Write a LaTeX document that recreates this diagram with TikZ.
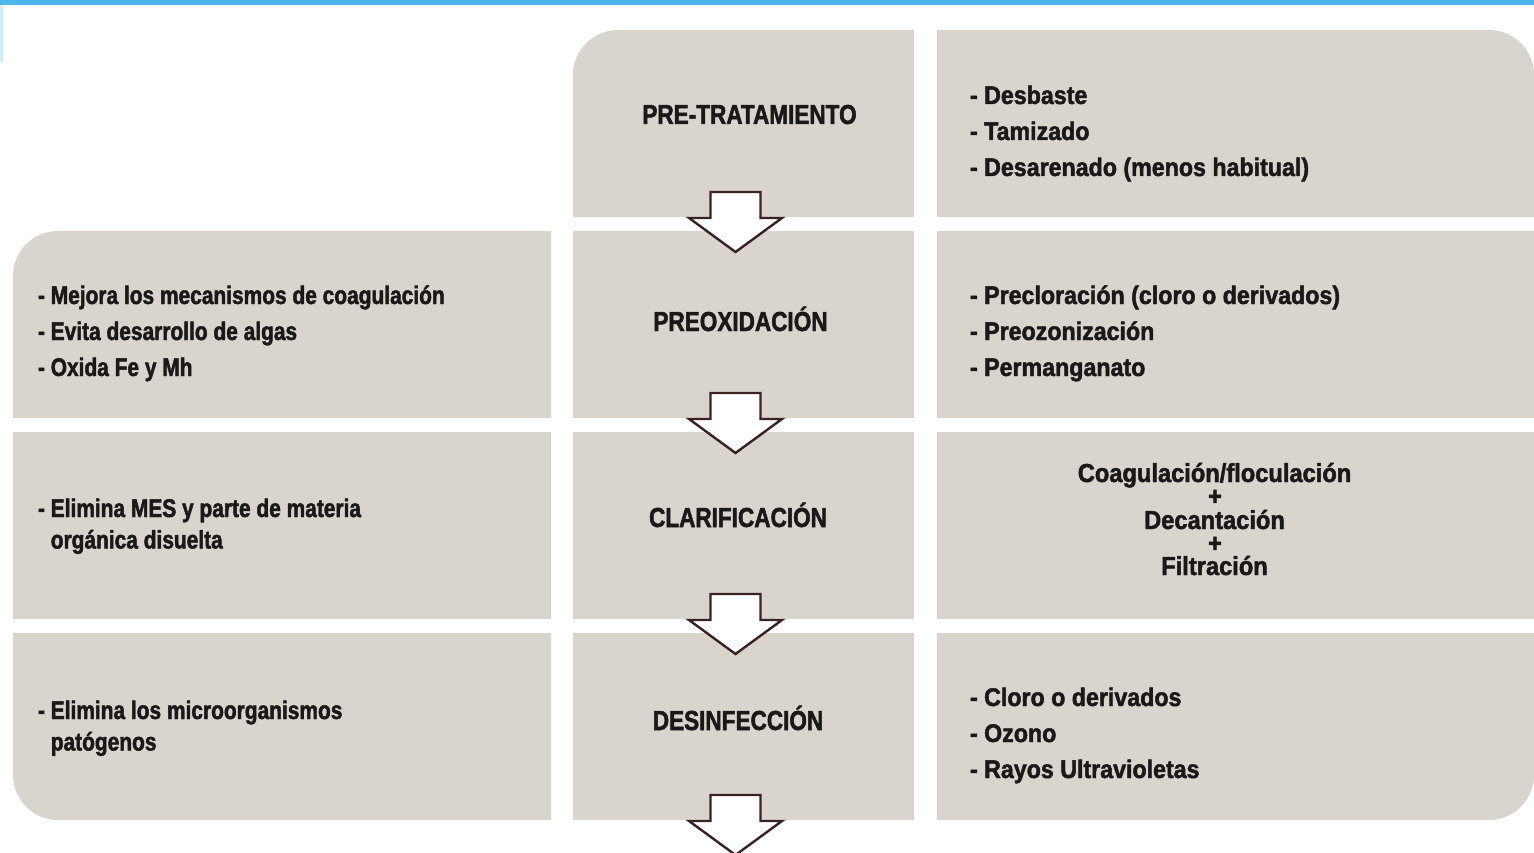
\documentclass[tikz,border=0pt]{standalone}
\usepackage{fontspec}
\setmainfont{Liberation Sans}
\newfontfamily\condA{Liberation Sans}[FakeStretch=0.82, BoldFeatures={FakeBold=1.8}]
\newfontfamily\condB{Liberation Sans}[FakeStretch=0.91, BoldFeatures={FakeBold=1.8}]
\newfontfamily\condH{Liberation Sans}[FakeStretch=0.82, BoldFeatures={FakeBold=1.8}]
\definecolor{boxc}{HTML}{D9D4CE}
\definecolor{txtc}{HTML}{1C1818}
\definecolor{arrc}{HTML}{3B2222}
\definecolor{barc}{HTML}{4DB6EC}
\begin{document}
\begin{tikzpicture}[x=1pt,y=-1pt,
  boxfill/.style={fill=boxc},
  txt/.style={inner sep=0pt, outer sep=0pt, text=txtc},
  head/.style={txt, anchor=base, font=\condH\bfseries\fontsize{27.5}{32}\selectfont},
  lstA/.style={txt, anchor=base west, align=left, font=\condA\bfseries\fontsize{25.5}{36}\selectfont},
  lstAt/.style={lstA, font=\condA\bfseries\fontsize{25.5}{31.5}\selectfont},
  lstB/.style={txt, anchor=base west, align=left, font=\condB\bfseries\fontsize{25.5}{36}\selectfont},
  ctrB/.style={txt, anchor=base, font=\condB\bfseries\fontsize{26}{32}\selectfont},
  arrowline/.style={draw=arrc, fill=white, line width=2.4pt, line join=miter},
  darrow/.pic={\path[arrowline] (-25,-60) -- (25,-60) -- (25,-34) -- (46.5,-34) -- (0,0) -- (-46.5,-34) -- (-25,-34) -- cycle;}
]
\useasboundingbox (0,0) rectangle (1534,853);
\fill[white] (0,0) rectangle (1534,853);
% top bar
\fill[barc] (0,0) rectangle (1534,5.5);
\fill[barc!25] (0,5.5) rectangle (3,62);

% ---- row 1
\fill[boxfill] (573,217) -- (573,75) arc[start angle=180,end angle=270,radius=45] -- (914,30) -- (914,217) -- cycle;
\fill[boxfill] (937,217) -- (937,30) -- (1489,30) arc[start angle=270,end angle=360,radius=45] -- (1534,217) -- cycle;
% ---- row 2
\fill[boxfill] (13,418) -- (13,276) arc[start angle=180,end angle=270,radius=45] -- (551,231) -- (551,418) -- cycle;
\fill[boxfill] (573,231) rectangle (914,418);
\fill[boxfill] (937,231) rectangle (1534,418);
% ---- row 3
\fill[boxfill] (13,432) rectangle (551,619);
\fill[boxfill] (573,432) rectangle (914,619);
\fill[boxfill] (937,432) rectangle (1534,619);
% ---- row 4
\fill[boxfill] (13,633) -- (551,633) -- (551,820) -- (58,820) arc[start angle=90,end angle=180,radius=45] -- cycle;
\fill[boxfill] (573,633) rectangle (914,820);
\fill[boxfill] (937,633) -- (1534,633) -- (1534,775) arc[start angle=0,end angle=90,radius=45] -- (937,820) -- cycle;

% ---- headings
\node[head] (h1) at (749.5,124) {PRE-TRATAMIENTO};
\node[head] (h2) at (740.5,331) {PREOXIDACIÓN};
\node[head] (h3) at (738,527) {CLARIFICACIÓN};
\node[head] (h4) at (738,730) {DESINFECCIÓN};

% ---- right column (base anchor = baseline of last line)
\node[lstB] (r1) at (970,176) {- Desbaste\\- Tamizado\\- Desarenado (menos habitual)};
\node[lstB] (r2) at (970,376) {- Precloración (cloro o derivados)\\- Preozonización\\- Permanganato};
\node[ctrB] (r3a) at (1214.5,482) {Coagulación/floculación};
\node[ctrB] (r3p1) at (1215,505) {+};
\node[ctrB] (r3b) at (1214.5,529) {Decantación};
\node[ctrB] (r3p2) at (1215,552) {+};
\node[ctrB] (r3c) at (1214.5,575) {Filtración};
\node[lstB] (r4) at (970,778) {- Cloro o derivados\\- Ozono\\- Rayos Ultravioletas};

% ---- left column
\node[lstA] (l2) at (38,376) {- Mejora los mecanismos de coagulación\\- Evita desarrollo de algas\\- Oxida Fe y Mh};
\node[lstAt] (l3) at (38,548.5) {- Elimina MES y parte de materia\\\phantom{- }orgánica disuelta};
\node[lstAt] (l4) at (38,750.5) {- Elimina los microorganismos\\\phantom{- }patógenos};

% ---- arrows
\pic (a1) at (735.5,252) {darrow};
\pic (a2) at (735.5,453) {darrow};
\pic (a3) at (735.5,654) {darrow};
\pic (a4) at (735.5,855) {darrow};
\end{tikzpicture}
\end{document}
